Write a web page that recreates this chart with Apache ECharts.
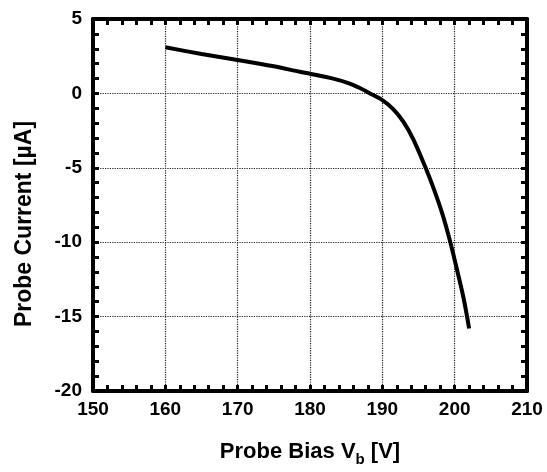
<!DOCTYPE html>
<html style="height: 100%">
   <head>
       <meta charset="utf-8">
   </head>
   <body style="height: 100%; margin: 0; background: #fff">
    <div id="container" style="width: 547px; height: 472px"></div>
    <script type="text/javascript" src="https://cdn.jsdelivr.net/npm/echarts@6/dist/echarts.min.js"></script>
<script type="text/javascript">
// probe bias [V] and probe current [uA]
var bias = [160, 165, 170, 175, 178.6, 180, 183.2, 185.5, 186.9, 188.3, 190, 191.5, 192.9, 194.3, 195.9, 197.1, 198.3, 199.4, 200.3, 201.25, 202];
var current = [3.1, 2.65, 2.25, 1.82, 1.45, 1.32, 0.99, 0.66, 0.36, 0.0, -0.45, -1.05, -1.9, -3.1, -4.9, -6.4, -8.1, -10.0, -11.8, -13.8, -15.8];

var xTicks = [150, 160, 170, 180, 190, 200, 210];
var yTicks = [-20, -15, -10, -5, 0, 5];

var dom = document.getElementById("container");
var myChart = echarts.init(dom);
var font = 'Liberation Sans';

var points = [];
for (var i = 0; i < bias.length; i++) {
    points.push([bias[i], current[i]]);
}

function axisBase(show) {
    return {
        axisLine: { show: true, onZero: false, lineStyle: { color: '#000', width: 4 } },
        axisTick: { show: true, inside: true, length: 6, lineStyle: { color: '#000', width: 3 } },
        minorTick: { show: true, splitNumber: 5, length: 6, lineStyle: { color: '#000', width: 3 } },
        splitLine: { show: show, lineStyle: { color: '#222', type: 'dotted', width: 1.2 } },
        axisLabel: { show: show, color: '#000', fontFamily: font, fontWeight: 'bold', fontSize: 19 }
    };
}

var xMain = axisBase(true);
xMain.type = 'value';
xMain.min = xTicks[0];
xMain.max = xTicks[xTicks.length - 1];
xMain.interval = 10;
xMain.axisLabel.margin = 9;
xMain.name = '{t|Probe Bias V}{s|b}{t| [V]}';
xMain.nameLocation = 'middle';
xMain.nameGap = 45;
xMain.nameTextStyle = {
    rich: {
        t: { fontFamily: font, fontWeight: 'bold', fontSize: 22, color: '#000' },
        s: { fontFamily: font, fontWeight: 'bold', fontSize: 15, color: '#000', padding: [16, 0, 0, 0] }
    }
};

var xTop = axisBase(false);
xTop.type = 'value';
xTop.position = 'top';
xTop.min = xTicks[0];
xTop.max = xTicks[xTicks.length - 1];
xTop.interval = 10;

var yMain = axisBase(true);
yMain.type = 'value';
yMain.min = yTicks[0];
yMain.max = yTicks[yTicks.length - 1];
yMain.interval = 5;
yMain.axisLabel.margin = 11;
yMain.name = 'Probe Current [µA]';
yMain.nameLocation = 'middle';
yMain.nameGap = 57;
yMain.nameTextStyle = { fontFamily: font, fontWeight: 'bold', fontSize: 23, color: '#000', padding: [0, 38, 0, 0] };

var yRight = axisBase(false);
yRight.type = 'value';
yRight.position = 'right';
yRight.min = yTicks[0];
yRight.max = yTicks[yTicks.length - 1];
yRight.interval = 5;

option = {
    animation: false,
    backgroundColor: '#fff',
    grid: { left: 93, right: 20, top: 19, bottom: 79 },
    xAxis: [xMain, xTop],
    yAxis: [yMain, yRight],
    series: [
        {
            type: 'line',
            xAxisIndex: 0,
            yAxisIndex: 0,
            data: points,
            smooth: 0.3,
            showSymbol: false,
            lineStyle: { color: '#000', width: 4 }
        }
    ]
};

myChart.setOption(option, true);
</script>
   </body>
</html>
